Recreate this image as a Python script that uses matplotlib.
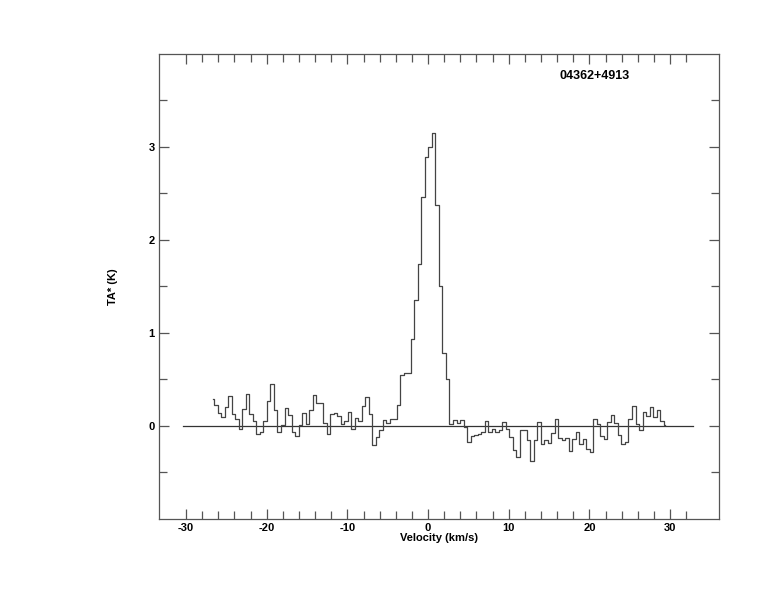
import numpy as np
import matplotlib
matplotlib.use("Agg")
import matplotlib.pyplot as plt

# ──────────────────────────────────────────────────────────────────────────────
# Datos del espectro
# ──────────────────────────────────────────────────────────────────────────────
fuente = "04362+4913"
v_inicio = -26.71      # km/s, centro del primer canal
dv = 0.435             # km/s, ancho de canal

ta = [
    0.29, 0.23, 0.14, 0.10, 0.20, 0.32, 0.13, 0.07, -0.03, 0.18,
    0.34, 0.13, 0.05, -0.09, -0.07, 0.05, 0.27, 0.45, 0.17, -0.07,
    0.01, 0.19, 0.12, -0.07, -0.11, 0.01, 0.14, 0.02, 0.17, 0.33,
    0.25, 0.25, 0.03, -0.09, 0.13, 0.14, 0.11, 0.02, 0.05, 0.15,
    -0.03, 0.09, 0.05, 0.22, 0.31, 0.13, -0.20, -0.12, -0.04, 0.06,
    0.03, 0.08, 0.07, 0.23, 0.55, 0.57, 0.57, 0.93, 1.35, 1.74,
    2.46, 2.89, 3.00, 3.15, 2.38, 1.50, 0.79, 0.51, 0.02, 0.06,
    0.03, 0.06, -0.01, -0.17, -0.11, -0.10, -0.09, -0.07, 0.05, -0.06,
    -0.03, -0.06, -0.04, 0.04, -0.03, -0.12, -0.26, -0.33, -0.04, -0.04,
    -0.15, -0.38, -0.15, 0.04, -0.19, -0.15, -0.18, -0.08, 0.07, -0.13,
    -0.15, -0.13, -0.27, -0.14, -0.07, -0.19, -0.14, -0.25, -0.28, 0.08,
    0.02, -0.11, -0.14, 0.04, 0.12, 0.03, -0.10, -0.19, -0.17, 0.08,
    0.22, 0.02, -0.04, 0.15, 0.11, 0.20, 0.10, 0.17, 0.05, 0.01,
]
velocidad = v_inicio + dv * np.arange(len(ta))

linea_base_v = [-30.4, 32.8]
linea_base_t = [0.0, 0.0]

xticks_may = [-30, -20, -10, 0, 10, 20, 30]
xticks_men = list(range(-30, 33, 2))
yticks_may = [0, 1, 2, 3]
yticks_men = [-0.5, 0.5, 1.5, 2.5, 3.5]

# ──────────────────────────────────────────────────────────────────────────────
# Gráfica
# ──────────────────────────────────────────────────────────────────────────────
plt.rcParams["font.family"] = ["Liberation Sans", "DejaVu Sans"]
plt.rcParams["font.weight"] = "bold"
plt.rcParams["axes.unicode_minus"] = False

fig = plt.figure(figsize=(7.74, 6.12), dpi=100)
ax = fig.add_axes([0.2054, 0.152, 0.7235, 0.7598])

gris = "#555555"
ax.plot(linea_base_v, linea_base_t, color="#333333", linewidth=0.9)
ax.step(velocidad, ta, where="mid", color="#444444", linewidth=0.9)

ax.set_xlim(-33.35, 36.05)
ax.set_ylim(-1.0, 4.0)

ax.set_xticks(xticks_may)
ax.set_xticks(xticks_men, minor=True)
ax.set_yticks(yticks_may)
ax.set_yticks(yticks_men, minor=True)

ax.tick_params(which="both", direction="in", top=True, right=True,
               color=gris, width=0.9, labelsize=8, pad=3)
ax.tick_params(which="major", length=7.5)
ax.tick_params(which="minor", length=5.5)
for lado in ax.spines.values():
    lado.set_color(gris)
    lado.set_linewidth(0.9)

for etiqueta in ax.get_xticklabels() + ax.get_yticklabels():
    etiqueta.set_fontweight("bold")

ax.set_xlabel("Velocity (km/s)", fontsize=8, fontweight="bold", labelpad=0)
ax.set_ylabel("TA* (K)", fontsize=8, fontweight="bold", labelpad=22)

ax.text(20.7, 3.76, fuente, fontsize=9, fontweight="bold",
        ha="center", va="center")

fig.savefig("out.png", dpi=100)
plt.close(fig)
